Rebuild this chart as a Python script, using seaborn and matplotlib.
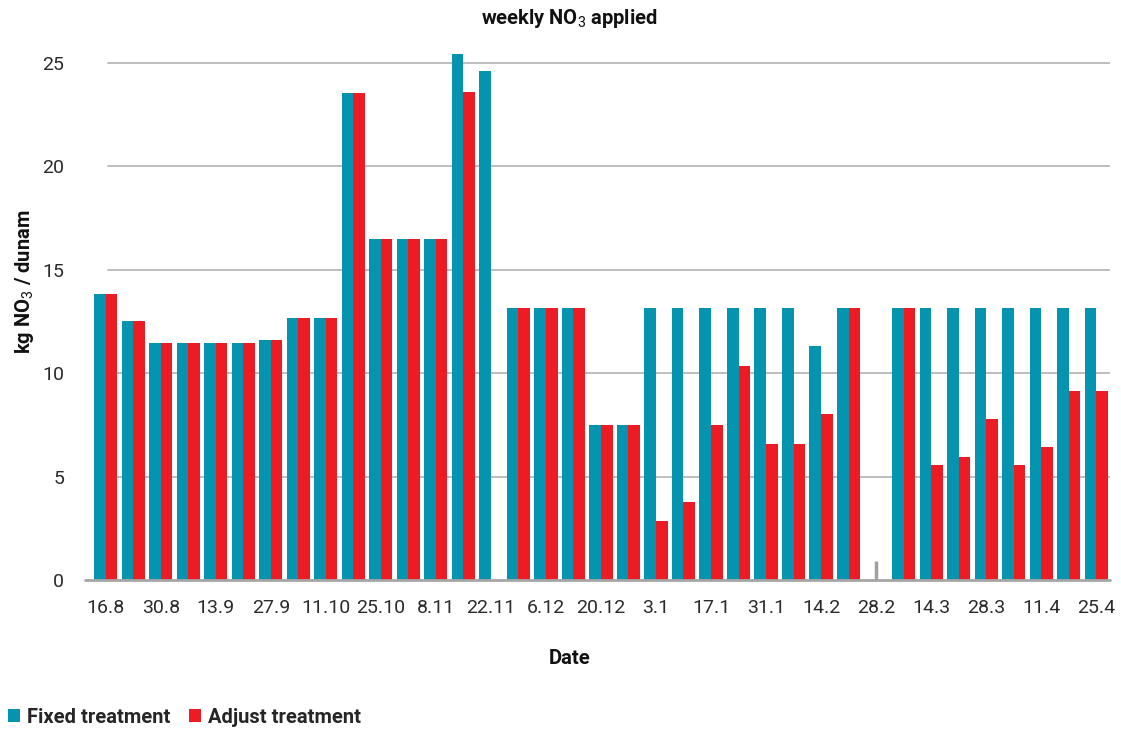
import numpy as np
import pandas as pd
import seaborn as sns
import matplotlib.pyplot as plt
from matplotlib.patches import Patch

# Fechas semanales
dates = ["16.8", "23.8", "30.8", "6.9", "13.9", "20.9", "27.9", "4.10", "11.10", "18.10",
         "25.10", "1.11", "8.11", "15.11", "22.11", "29.11", "6.12", "13.12", "20.12", "27.12",
         "3.1", "10.1", "17.1", "24.1", "31.1", "7.2", "14.2", "21.2", "28.2", "7.3",
         "14.3", "21.3", "28.3", "4.4", "11.4", "18.4", "25.4"]

fixed = [13.8, 12.5, 11.45, 11.45, 11.45, 11.45, 11.6, 12.65, 12.65, 23.55,
         16.5, 16.5, 16.5, 25.4, 24.6, 13.15, 13.15, 13.15, 7.5, 7.5,
         13.15, 13.15, 13.15, 13.15, 13.15, 13.15, 11.3, 13.15, np.nan, 13.15,
         13.15, 13.15, 13.15, 13.15, 13.15, 13.15, 13.15]

adjust = [13.8, 12.5, 11.45, 11.45, 11.45, 11.45, 11.6, 12.65, 12.65, 23.55,
          16.5, 16.5, 16.5, 23.6, np.nan, 13.15, 13.15, 13.15, 7.5, 7.5,
          2.85, 3.75, 7.5, 10.35, 6.55, 6.55, 8.0, 13.15, np.nan, 13.15,
          5.55, 5.95, 7.8, 5.55, 6.45, 9.15, 9.15]

missing_date = "28.2"
missing_mark = 0.9

series_names = ["Fixed treatment", "Adjust treatment"]
colors = ["#0494b0", "#ed1c24"]

df = pd.DataFrame({
    "Date": dates * 2,
    "Treatment": [series_names[0]] * len(dates) + [series_names[1]] * len(dates),
    "Value": fixed + adjust,
})

sns.set_theme(style="white")
plt.rcParams["font.family"] = ["Roboto", "DejaVu Sans"]
plt.rcParams["mathtext.fontset"] = "custom"
plt.rcParams["mathtext.rm"] = "Roboto"
plt.rcParams["mathtext.it"] = "Roboto"
plt.rcParams["mathtext.bf"] = "Roboto:bold"

fig = plt.figure(figsize=(11.21, 7.29), dpi=100)
ax = fig.add_axes([0.0821, 0.2044, 0.908, 0.738])

sns.barplot(data=df.dropna(), x="Date", y="Value", hue="Treatment", order=dates,
            hue_order=series_names, palette=colors, width=0.84, gap=0,
            errorbar=None, ax=ax, legend=False, saturation=1, linewidth=0)

# Marca gris en la semana sin datos
idx = dates.index(missing_date)
ax.vlines(idx, 0, missing_mark, color="#a0a0a0", lw=2.5, zorder=3)

ax.set_xlim(-0.5, len(dates) - 0.5)
ax.set_ylim(0, 26)
ax.set_yticks([0, 5, 10, 15, 20, 25])
for y in [5, 10, 15, 20, 25]:
    ax.axhline(y, xmin=0.016, xmax=1, color="#b3b3b3", lw=1.2, zorder=0)
ax.axhline(0, xmin=-0.007, xmax=1, color="#a6a6a6", lw=2, zorder=4, clip_on=False)

ax.set_xticks(range(0, len(dates), 2))
ax.set_xticklabels(dates[::2])
ax.tick_params(axis="both", length=0, labelsize=14, colors="#2b2b2b")
ax.tick_params(axis="x", pad=14)
ax.tick_params(axis="y", pad=20)

for s in ax.spines.values():
    s.set_visible(False)

ax.set_ylabel(r"kg NO$_3$ / dunam", fontsize=14.5, fontweight="bold", color="#111111")
ax.yaxis.set_label_coords(-0.055, 0.555)
ax.set_xlabel("Date", fontsize=14.5, fontweight="bold", color="#111111")
ax.xaxis.set_label_coords(0.469, -0.128)

fig.text(0.508, 0.975, r"weekly NO$_3$ applied", ha="center", va="center",
         fontsize=14.5, fontweight="bold", color="#111111")

handles = [Patch(facecolor=c, edgecolor="none") for c in colors]
fig.legend(handles, series_names, loc="lower left", bbox_to_anchor=(-0.009, -0.022), ncol=2,
           frameon=False, handlelength=0.6, handleheight=0.6, handletextpad=0.35,
           columnspacing=0.9, prop={"size": 14.5, "weight": "bold"})

fig.savefig("out.png", dpi=100)
